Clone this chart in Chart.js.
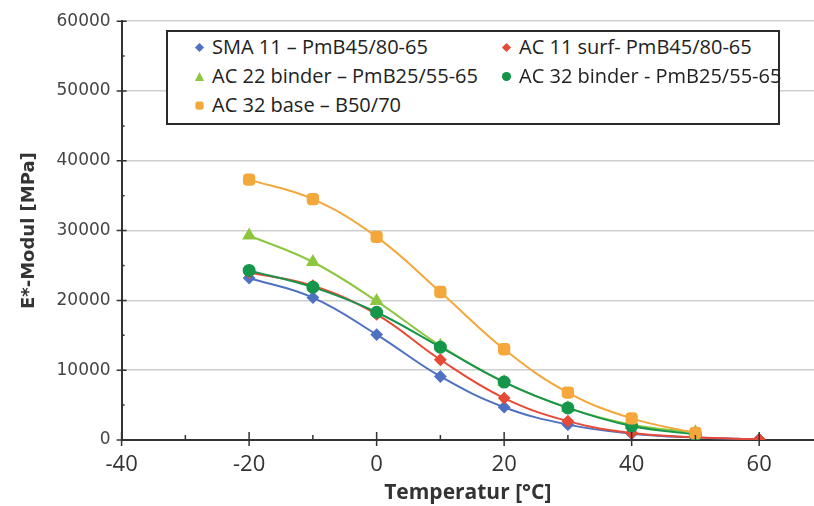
<!DOCTYPE html>
<html lang="de">
<head>
<meta charset="UTF-8">
<title>E*-Modul vs Temperatur</title>
<script src="https://cdn.jsdelivr.net/npm/chart.js"></script>
<style>
  html, body { margin: 0; padding: 0; background: #fff; }
  #wrap { position: relative; width: 814px; height: 506px; overflow: hidden; }
  #legend {
    position: absolute; left: 166px; top: 30px; width: 610px; height: 91px;
    border: 2px solid #2a2a2a; background: #fff;
    font-family: "Open Sans", sans-serif; font-size: 20px; color: #222;
  }
  #legend .item { position: absolute; display: flex; align-items: center; white-space: nowrap; line-height: 1; }
  #legend .mk { width: 11px; height: 11px; margin-right: 7px; }
</style>
</head>
<body>
<div id="wrap">
  <canvas id="chart" width="814" height="506"></canvas>
  <div id="legend"></div>
</div>

<script>
// temperatures (°C)
const temps = [-20, -10, 0, 10, 20, 30, 40, 50, 60];

// E*-Modul values [MPa]
const sma11 = [23200, 20400, 15100, 9100, 4700, 2200, 900, 350, 100];
const ac11surf = [24000, 22100, 18000, 11500, 6000, 2700, 1000, 400, 100];
const ac22binder = [29300, 25500, 19900, 13500, 8300, 4600, 2200, 1100, null];
const ac32binder = [24300, 21900, 18300, 13300, 8300, 4600, 2000, 800, null];
const ac32base = [37300, 34500, 29100, 21200, 13000, 6800, 3100, 1000, null];

const seriesNames = [
  'SMA 11 – PmB45/80-65',
  'AC 11 surf- PmB45/80-65',
  'AC 22 binder – PmB25/55-65',
  'AC 32 binder - PmB25/55-65',
  'AC 32 base – B50/70'
];

const xTicks = [-40, -20, 0, 20, 40, 60];
const yTicks = [0, 10000, 20000, 30000, 40000, 50000, 60000];

const colors = ['#4f71c2', '#e64a36', '#8dc63f', '#16964a', '#f4a73b'];
const styles = ['rectRot', 'rectRot', 'triangle', 'circle', 'rectRounded'];
const radii = [5, 5, 6, 5.5, 6];

const allSeries = [sma11, ac11surf, ac22binder, ac32binder, ac32base];

function toPoints(vals) {
  return temps.map((t, i) => ({ x: t, y: vals[i] })).filter(p => p.y !== null);
}

const datasets = allSeries.map((vals, i) => ({
  label: seriesNames[i],
  data: toPoints(vals),
  borderColor: colors[i],
  backgroundColor: colors[i],
  pointBackgroundColor: colors[i],
  pointBorderColor: colors[i],
  pointStyle: styles[i],
  pointRadius: radii[i],
  borderWidth: 2,
  tension: 0.4,
  order: 4 - i
}));

// axis tick marks, drawn from the scales
const tickMarks = {
  id: 'tickMarks',
  afterDraw(chart) {
    const { ctx, scales: { x, y } } = chart;
    const ax = x.getPixelForValue(-40);
    const ay = y.getPixelForValue(0);
    ctx.save();
    ctx.strokeStyle = '#333';
    ctx.lineWidth = 1.5;
    ctx.beginPath();
    for (let v = 0; v <= 60000; v += 5000) {
      const py = y.getPixelForValue(v);
      if (v % 10000 === 0) { ctx.moveTo(ax - 5, py); ctx.lineTo(ax + 5, py); }
      else { ctx.moveTo(ax, py); ctx.lineTo(ax + 3, py); }
    }
    for (let t = -40; t <= 60; t += 10) {
      const px = x.getPixelForValue(t);
      if (t % 20 === 0) { ctx.moveTo(px, ay - 8); ctx.lineTo(px, ay + 6); }
      else { ctx.moveTo(px, ay - 5); ctx.lineTo(px, ay); }
    }
    ctx.stroke();
    ctx.restore();
  }
};

new Chart(document.getElementById('chart'), {
  type: 'line',
  data: { datasets },
  plugins: [tickMarks],
  options: {
    responsive: false,
    animation: false,
    layout: { autoPadding: false, padding: { top: 20, right: 0, left: 0, bottom: 0 } },
    plugins: { legend: { display: false }, tooltip: { enabled: false } },
    scales: {
      x: {
        type: 'linear',
        min: -40,
        max: 68.6,
        afterBuildTicks: s => { s.ticks = xTicks.map(v => ({ value: v })); },
        afterFit: s => { s.height = 66; s.paddingLeft = 0; s.paddingRight = 0; },
        grid: { display: false, drawTicks: false },
        border: { display: true, color: '#333', width: 2 },
        ticks: {
          padding: 12,
          color: '#333',
          font: { family: 'Open Sans', size: 22 },
          maxRotation: 0,
          callback: v => String(v)
        },
        title: {
          display: true,
          text: 'Temperatur [°C]',
          color: '#333',
          font: { family: 'Open Sans', size: 21, weight: 'bold' },
          padding: { top: 0, bottom: 0 }
        }
      },
      y: {
        min: 0,
        max: 60000,
        afterBuildTicks: s => { s.ticks = yTicks.map(v => ({ value: v })); },
        afterFit: s => { s.width = 121.6; },
        grid: { color: '#cfcfcf', lineWidth: 1.5, drawTicks: false },
        border: { display: true, color: '#333', width: 2 },
        ticks: {
          padding: 11,
          color: '#444',
          font: { family: 'DejaVu Sans', size: 17 },
          callback: v => String(v)
        },
        title: {
          display: true,
          text: 'E*-Modul [MPa]',
          color: '#333',
          font: { family: 'DejaVu Sans', size: 18, weight: 'bold' },
          padding: { top: 19, bottom: 0 }
        }
      }
    }
  }
});

// HTML legend in two columns
const legendPos = [
  { left: 26, top: 5 }, { left: 333, top: 5 },
  { left: 26, top: 34 }, { left: 333, top: 34 },
  { left: 26, top: 63 }
];
function markerSvg(i) {
  const c = colors[i];
  let shape;
  if (styles[i] === 'rectRot') shape = `<polygon points="6,1 11,6 6,11 1,6" fill="${c}"/>`;
  else if (styles[i] === 'triangle') shape = `<polygon points="6,1 11,11 1,11" fill="${c}"/>`;
  else if (styles[i] === 'circle') shape = `<circle cx="6" cy="6" r="5" fill="${c}"/>`;
  else shape = `<rect x="1.5" y="1.5" width="9" height="9" rx="2.5" fill="${c}"/>`;
  return `<svg class="mk" viewBox="0 0 12 12">${shape}</svg>`;
}
const legendEl = document.getElementById('legend');
seriesNames.forEach((name, i) => {
  const d = document.createElement('div');
  d.className = 'item';
  d.style.left = legendPos[i].left + 'px';
  d.style.top = legendPos[i].top + 'px';
  d.innerHTML = markerSvg(i) + '<span>' + name + '</span>';
  legendEl.appendChild(d);
});
</script>
</body>
</html>
